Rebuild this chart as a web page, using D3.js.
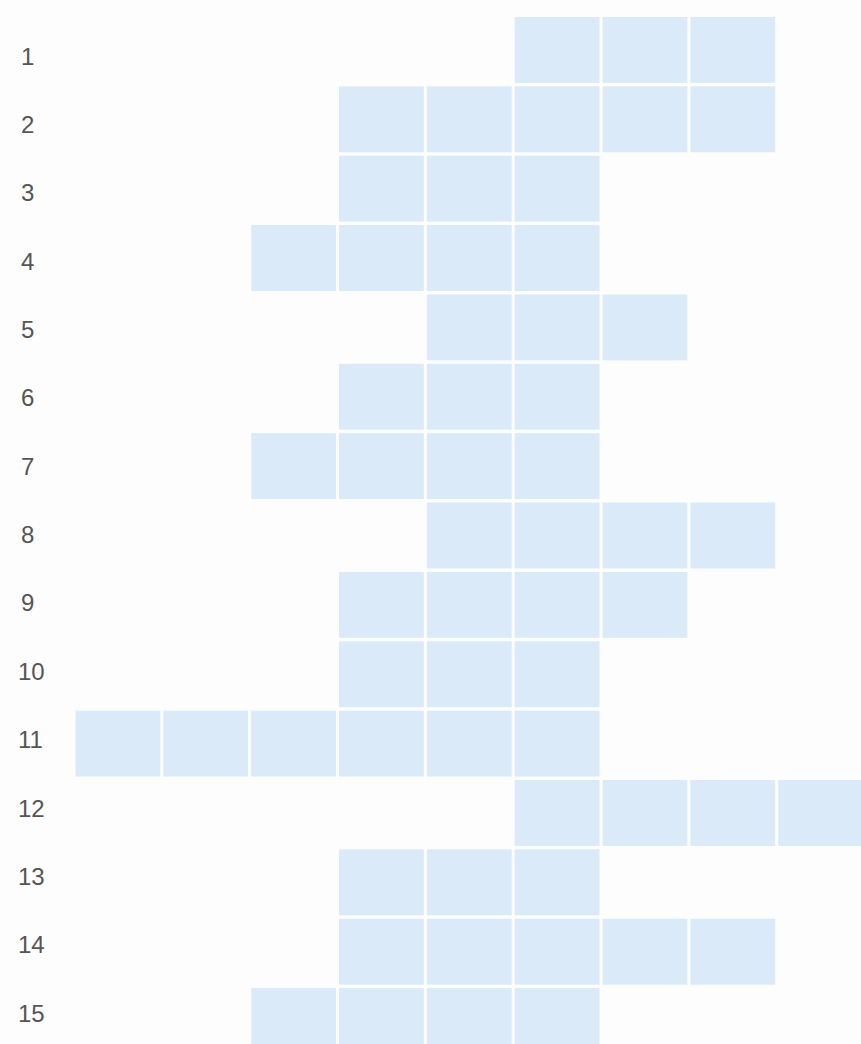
<!DOCTYPE html>
<html>
<head>
<meta charset="utf-8">
<script src="https://cdn.jsdelivr.net/npm/d3@7"></script>
<style>
  html, body { margin: 0; padding: 0; background: #fdfdfd; }
  svg { display: block; }
</style>
</head>
<body>
<svg id="chart" width="861" height="1044"></svg>
<script>
// Row labels (categories)
const rowLabels = ["1","2","3","4","5","6","7","8","9","10","11","12","13","14","15"];
// First shaded column of each row (0-based)
const startCols = [5, 3, 3, 2, 4, 3, 2, 4, 3, 3, 0, 5, 3, 3, 2];
// Number of shaded cells in each row
const cellCounts = [3, 5, 3, 4, 3, 3, 4, 4, 4, 3, 6, 4, 3, 5, 4];
// Column indices of the grid
const columns = d3.range(9);

const svg = d3.select("#chart");
svg.append("rect").attr("width", 861).attr("height", 1044).attr("fill", "#fdfdfd");

const x = d3.scaleBand().domain(columns).range([75.5, 863]).paddingInner(0.035).paddingOuter(0.0);
const y = d3.scaleBand().domain(rowLabels).range([17, 1054]).paddingInner(0.05).paddingOuter(0.0);
const yLabel = d3.scalePoint().domain(rowLabels).range([56, 1013]);

const cells = [];
rowLabels.forEach((r, i) => {
  for (let k = 0; k < cellCounts[i]; k++) cells.push({ row: r, col: startCols[i] + k });
});

svg.append("g").selectAll("rect").data(cells).join("rect")
  .attr("x", d => x(d.col))
  .attr("y", d => y(d.row))
  .attr("width", x.bandwidth())
  .attr("height", y.bandwidth())
  .attr("fill", "#daeaf8");

svg.append("g").selectAll("text").data(rowLabels).join("text")
  .attr("x", d => d.length > 1 ? 18 : 21)
  .attr("y", d => yLabel(d))
  .attr("dy", "0.36em")
  .attr("font-family", "Liberation Sans, Arial, sans-serif")
  .attr("font-size", 24)
  .attr("fill", "#555555")
  .text(d => d);
</script>
</body>
</html>
